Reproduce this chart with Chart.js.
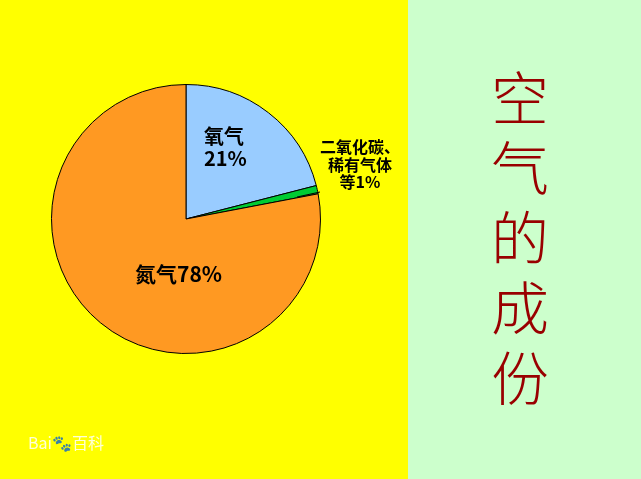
<!DOCTYPE html>
<html><head><meta charset="utf-8">
<script src="https://cdn.jsdelivr.net/npm/chart.js@4"></script>
<style>
body{margin:0;width:641px;height:479px;overflow:hidden;position:relative;font-family:"Noto Sans CJK SC",sans-serif}
#left{position:absolute;left:0;top:0;width:408px;height:479px;background:#ffff00}
#right{position:absolute;left:408px;top:0;width:233px;height:479px;background:#ccffcc}
#wrap{position:absolute;left:0;top:0;width:372px;height:438px}
.lab{position:absolute;color:#000;font-weight:bold;line-height:1.1}
#title{position:absolute;left:490px;top:60px;width:60px;color:#990000;font-size:58px;line-height:70px;text-align:center;font-weight:300}
#wm{position:absolute;left:28px;top:430px;color:#fff;font-size:16px;opacity:.85}
</style></head><body>
<div id="left"></div><div id="right"></div>
<div id="wrap"><canvas id="pie" width="372" height="438"></canvas></div>
<div class="lab" style="left:204px;top:125px;font-size:20px">氧气<br>21%</div>
<div class="lab" style="left:320px;top:138px;font-size:16px;text-align:center">二氧化碳、<br>稀有气体<br>等1%</div>
<div class="lab" style="left:135px;top:262px;font-size:21px">氮气78%</div>
<div id="title">空<br>气<br>的<br>成<br>份</div>
<div id="wm">Bai🐾百科</div>
<script>
const labels = ['氧气', '二氧化碳、稀有气体等', '氮气'];
const values = [21, 1, 78];
const colors = ['#99ccff', '#00cc33', '#ff9922'];

new Chart(document.getElementById('pie'), {
    type: 'pie',
    data: {
        labels: labels,
        datasets: [{
            data: values,
            backgroundColor: colors,
            borderColor: '#000',
            borderWidth: 1
        }]
    },
    options: {
        responsive: false,
        animation: false,
        layout: { padding: 51 },
        plugins: { legend: { display: false }, tooltip: { enabled: false } }
    }
});

// short leader line to the small slice
const ctx = document.getElementById('pie').getContext('2d');
</script>
<svg style="position:absolute;left:0;top:0" width="641" height="479"><line x1="297" y1="197" x2="320" y2="192" stroke="#000" stroke-width="1"/></svg>
</body></html>
